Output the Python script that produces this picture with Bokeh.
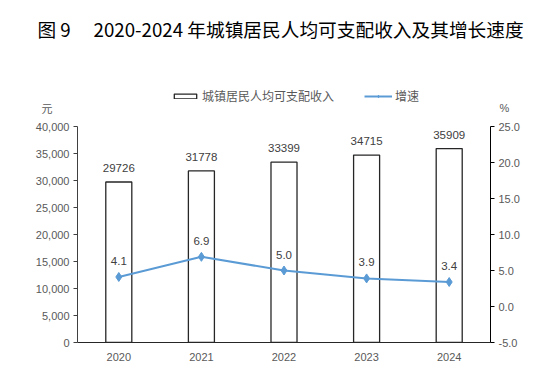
from bokeh.plotting import figure
from bokeh.models import (Range1d, LinearAxis, FixedTicker, NumeralTickFormatter,
                          Legend, LegendItem, ColumnDataSource, Title)
from bokeh.core.properties import value
from bokeh.embed import file_html
from bokeh.resources import INLINE

years = ["2020", "2021", "2022", "2023", "2024"]
income = [29726, 31778, 33399, 34715, 35909]
growth = [4.1, 6.9, 5.0, 3.9, 3.4]
left_ticks = [0, 5000, 10000, 15000, 20000, 25000, 30000, 35000, 40000]
right_ticks = [-5, 0, 5, 10, 15, 20, 25]

title_text = "图 9　 2020-2024 年城镇居民人均可支配收入及其增长速度"
bar_name = "城镇居民人均可支配收入"
line_name = "增速"
left_unit = "元"
right_unit = "%"

xs = [i + 0.5 for i in range(len(years))]

NUM_FONT = "Liberation Sans"
CJK_FONT = "Noto Sans CJK SC"
GRAY = "#595959"
BLUE = "#5B9BD5"

# layout (pixels): frame 77..490 x 53..342; value axes span 126..342
FRAME_TOP, FRAME_BOTTOM, AXIS_TOP = 53, 342, 126
AXIS_PX = FRAME_BOTTOM - AXIS_TOP
UNIT_Y = 107
lmin, lmax = left_ticks[0], left_ticks[-1]
rmin, rmax = right_ticks[0], right_ticks[-1]
lpp = (lmax - lmin) / AXIS_PX
rpp = (rmax - rmin) / AXIS_PX

p = figure(width=546, height=376, output_backend="svg", toolbar_location=None,
           x_range=Range1d(0, 5),
           y_range=Range1d(lmin, lmin + lpp * (FRAME_BOTTOM - FRAME_TOP)),
           min_border_left=77, min_border_right=56, min_border_top=FRAME_TOP,
           min_border_bottom=376 - FRAME_BOTTOM)
p.outline_line_color = None
p.grid.visible = False
p.xaxis.visible = False
p.yaxis.visible = False

p.extra_y_ranges = {"pct": Range1d(rmin, rmin + rpp * (FRAME_BOTTOM - FRAME_TOP))}

p.title = Title(text=title_text, align="left", offset=-40,
                text_font=CJK_FONT, text_font_size="18.7px",
                text_font_style="normal", text_color="#000000",
                vertical_align="bottom", standoff=24)


def style_axis(ax, standoff, font=NUM_FONT):
    ax.minor_tick_line_color = None
    ax.major_tick_in = 0
    ax.major_label_standoff = standoff
    ax.major_label_text_font = font
    ax.major_label_text_font_size = "11px"
    ax.major_label_text_color = GRAY


# left axis
la = LinearAxis(ticker=FixedTicker(ticks=left_ticks), bounds=(lmin, lmax),
                formatter=NumeralTickFormatter(format="0,0"))
style_axis(la, 4)
la.axis_line_color = "#404040"
la.major_tick_line_color = "#404040"
la.major_tick_out = 4
p.add_layout(la, "left")

# right axis
ra = LinearAxis(y_range_name="pct", ticker=FixedTicker(ticks=right_ticks),
                bounds=(rmin, rmax), formatter=NumeralTickFormatter(format="0.0"))
style_axis(ra, 4)
ra.axis_line_color = "#000000"
ra.major_tick_line_color = "#000000"
ra.major_tick_out = 4
p.add_layout(ra, "right")

# unit captions above the value axes
uy = lmax + lpp * (AXIS_TOP - UNIT_Y)
ul = LinearAxis(ticker=FixedTicker(ticks=[uy]))
ul.major_label_overrides = {uy: "\u3000\u3000" + left_unit}
style_axis(ul, -20, CJK_FONT)
ul.axis_line_color = None
ul.major_tick_line_color = None
ul.major_tick_out = 0
p.add_layout(ul, "left")

ur = LinearAxis(ticker=FixedTicker(ticks=[uy]))
ur.major_label_overrides = {uy: right_unit}
style_axis(ur, -23)
ur.axis_line_color = None
ur.major_tick_line_color = None
ur.major_tick_out = 0
p.add_layout(ur, "right")

# bottom axis
ba = LinearAxis(ticker=FixedTicker(ticks=xs))
ba.major_label_overrides = {x: y for x, y in zip(xs, years)}
style_axis(ba, 10)
ba.axis_line_color = "#262626"
ba.major_tick_line_color = None
ba.major_tick_out = 0
p.add_layout(ba, "below")

src = ColumnDataSource(dict(x=xs, income=income, growth=growth,
                            inc_lbl=[str(v) for v in income],
                            gr_lbl=["%.1f" % v for v in growth]))

bars = p.vbar(x="x", top="income", bottom=0, width=0.315, source=src,
              fill_color="white", line_color="#262626", line_width=1.3)
p.text(x="x", y="income", text="inc_lbl", source=src, text_align="center",
       text_baseline="alphabetic", y_offset=-14, text_font=value(NUM_FONT),
       text_font_size="11.5px", text_color="#404040")

ln = p.line(x="x", y="growth", source=src, y_range_name="pct",
            line_color=BLUE, line_width=2)
mk = p.scatter(x="x", y="growth", source=src, y_range_name="pct",
               marker="diamond", size=9, fill_color=BLUE, line_color=BLUE)
p.text(x="x", y="growth", text="gr_lbl", source=src, y_range_name="pct",
       text_align="center", text_baseline="alphabetic", y_offset=-16,
       text_font=value(NUM_FONT), text_font_size="11.5px", text_color="#404040")

legend = Legend(items=[LegendItem(label=bar_name, renderers=[bars]),
                       LegendItem(label=line_name, renderers=[ln, mk])],
                orientation="horizontal", location=(94, 238),
                padding=0, margin=0, spacing=30,
                glyph_width=28, glyph_height=6, label_standoff=3,
                label_text_font=CJK_FONT, label_text_font_size="12px",
                label_text_color=GRAY, border_line_alpha=0,
                background_fill_alpha=0)
p.add_layout(legend, "center")

open("out.html", "w").write(file_html(p, INLINE))
